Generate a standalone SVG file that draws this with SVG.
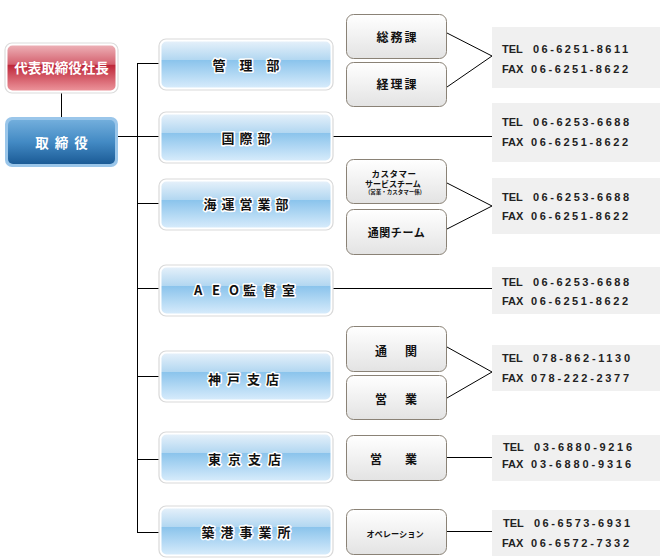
<svg xmlns="http://www.w3.org/2000/svg" width="669" height="560" viewBox="0 0 669 560">
<defs>
<linearGradient id="gDept" x1="0" y1="0" x2="0" y2="1">
<stop offset="0" stop-color="#e4f0fa"/>
<stop offset="0.4" stop-color="#b2d7f1"/>
<stop offset="0.41" stop-color="#8bc4ec"/>
<stop offset="1" stop-color="#d6ebfb"/>
</linearGradient>
<linearGradient id="gRed" x1="0" y1="0" x2="0" y2="1">
<stop offset="0" stop-color="#edb0b6"/>
<stop offset="0.42" stop-color="#d4606e"/>
<stop offset="0.43" stop-color="#bd2538"/>
<stop offset="1" stop-color="#ec939a"/>
</linearGradient>
<linearGradient id="gBlue" x1="0" y1="0" x2="0" y2="1">
<stop offset="0" stop-color="#72aedc"/>
<stop offset="0.5" stop-color="#438ac4"/>
<stop offset="1" stop-color="#1b5b96"/>
</linearGradient>
<linearGradient id="gSub" x1="0" y1="0" x2="0" y2="1">
<stop offset="0" stop-color="#ffffff"/>
<stop offset="1" stop-color="#e3e3e3"/>
</linearGradient>
<style>
.jp{font-family:"Noto Sans CJK JP","Noto Sans CJK SC",sans-serif;font-weight:bold;}
.dOut{fill:#ffffff;stroke:#d9d9d9;stroke-width:1.2;}
.dIn{fill:url(#gDept);}
.dTxt{font-size:13px;fill:#111;stroke:#ffffff;stroke-width:3;stroke-linejoin:round;paint-order:stroke;dominant-baseline:central;}
.sub{fill:url(#gSub);stroke:#8a8276;stroke-width:1;}
.sTxt{fill:#111;dominant-baseline:central;}
.info{fill:#f0f0f0;}
.tel{font-family:"Liberation Sans",Arial,sans-serif;font-weight:bold;font-size:11px;fill:#222;dominant-baseline:central;}
.con{stroke:#000;stroke-width:1;fill:none;}
</style>
</defs>
<rect width="669" height="560" fill="#ffffff"/>

<g id="connectors">
<line class="con" x1="61.5" y1="93" x2="61.5" y2="117"/>
<line class="con" x1="118" y1="136.5" x2="159" y2="136.5"/>
<line class="con" x1="137.5" y1="63" x2="137.5" y2="533"/>
<line class="con" x1="137" y1="63.5" x2="159" y2="63.5"/>
<line class="con" x1="137" y1="203.5" x2="159" y2="203.5"/>
<line class="con" x1="137" y1="288.5" x2="159" y2="288.5"/>
<line class="con" x1="137" y1="376.5" x2="159" y2="376.5"/>
<line class="con" x1="137" y1="459.5" x2="159" y2="459.5"/>
<line class="con" x1="137" y1="532.5" x2="159" y2="532.5"/>
<line class="con" x1="333" y1="136.5" x2="492" y2="136.5"/>
<line class="con" x1="333" y1="288.5" x2="492" y2="288.5"/>
<polyline class="con" points="447,33 492,56 447,87"/>
<polyline class="con" points="447,183 492,206 447,229"/>
<polyline class="con" points="447,347 492,372 447,398"/>
<line class="con" x1="447" y1="457.5" x2="492" y2="457.5"/>
<line class="con" x1="447" y1="531.5" x2="492" y2="531.5"/>
</g>

<g id="president">
<rect x="5" y="43" width="113" height="50" rx="7" fill="#ffffff" stroke="#dcdcdc" stroke-width="1.2"/>
<rect x="7.5" y="45.5" width="108" height="45" rx="5" fill="url(#gRed)"/>
<text class="jp" x="61.5" y="67" font-size="13.5" fill="#ffffff" text-anchor="middle" dominant-baseline="central">代表取締役社長</text>
</g>

<g id="directors">
<rect x="5" y="117" width="113" height="50" rx="7" fill="#9ac6ea"/>
<rect x="8" y="120" width="107" height="44" rx="5" fill="url(#gBlue)"/>
<text class="jp" x="64.5" y="142" font-size="13.5" fill="#ffffff" text-anchor="middle" dominant-baseline="central" letter-spacing="6">取締役</text>
</g>

<g id="kanri">
<rect class="dOut" x="159" y="39" width="174" height="51" rx="7"/>
<rect class="dIn" x="161.5" y="41.5" width="169" height="46" rx="5"/>
<text class="jp dTxt" x="253" y="64" text-anchor="middle" letter-spacing="14">管理部</text>
</g>

<g id="kokusai">
<rect class="dOut" x="159" y="112" width="174" height="51" rx="7"/>
<rect class="dIn" x="161.5" y="114.5" width="169" height="46" rx="5"/>
<text class="jp dTxt" x="248.5" y="137" text-anchor="middle" letter-spacing="5">国際部</text>
</g>

<g id="kaiun">
<rect class="dOut" x="159" y="179" width="174" height="51" rx="7"/>
<rect class="dIn" x="161.5" y="181.5" width="169" height="46" rx="5"/>
<text class="jp dTxt" x="248.5" y="203" text-anchor="middle" letter-spacing="5">海運営業部</text>
</g>

<g id="aeo">
<rect class="dOut" x="159" y="265" width="174" height="51" rx="7"/>
<rect class="dIn" x="161.5" y="267.5" width="169" height="46" rx="5"/>
<text class="jp dTxt" x="194 212 229 243 263 282" y="289">AEO監督室</text>
</g>

<g id="kobe">
<rect class="dOut" x="159" y="351" width="174" height="51" rx="7"/>
<rect class="dIn" x="161.5" y="353.5" width="169" height="46" rx="5"/>
<text class="jp dTxt" x="208 227 247 266" y="378">神戸支店</text>
</g>

<g id="tokyo">
<rect class="dOut" x="159" y="432" width="174" height="51" rx="7"/>
<rect class="dIn" x="161.5" y="434.5" width="169" height="46" rx="5"/>
<text class="jp dTxt" x="248" y="458.5" text-anchor="middle" letter-spacing="7">東京支店</text>
</g>

<g id="chikko">
<rect class="dOut" x="159" y="506" width="174" height="51" rx="7"/>
<rect class="dIn" x="161.5" y="508.5" width="169" height="46" rx="5"/>
<text class="jp dTxt" x="249" y="531" text-anchor="middle" letter-spacing="6">築港事業所</text>
</g>

<g id="somu">
<rect class="sub" x="346.5" y="14.5" width="100" height="44" rx="7"/>
<text class="jp sTxt" x="397.5" y="36" font-size="12" text-anchor="middle" letter-spacing="2">総務課</text>
</g>
<g id="keiri">
<rect class="sub" x="346.5" y="62.5" width="100" height="44" rx="7"/>
<text class="jp sTxt" x="397.5" y="83" font-size="12" text-anchor="middle" letter-spacing="2">経理課</text>
</g>
<g id="cs">
<rect class="sub" x="346.5" y="159.5" width="100" height="44" rx="7"/>
<text class="jp sTxt" x="394" y="173" font-size="8.5" text-anchor="middle" letter-spacing="0.5">カスタマー</text>
<text class="jp sTxt" x="393" y="183" font-size="8" text-anchor="middle">サービスチーム</text>
<text class="jp sTxt" x="395" y="192" font-size="5.5" text-anchor="middle">(営業・カスタマー係)</text>
</g>
<g id="tsukan-team">
<rect class="sub" x="346.5" y="209.5" width="100" height="45" rx="7"/>
<text class="jp sTxt" x="396.5" y="232" font-size="11" text-anchor="middle" letter-spacing="0.6">通関チーム</text>
</g>
<g id="kobe-tsukan">
<rect class="sub" x="346.5" y="326.5" width="100" height="45" rx="7"/>
<text class="jp sTxt" x="405" y="350" font-size="12" text-anchor="middle" letter-spacing="18">通関</text>
</g>
<g id="kobe-eigyo">
<rect class="sub" x="346.5" y="375.5" width="100" height="44" rx="7"/>
<text class="jp sTxt" x="405" y="398" font-size="12" text-anchor="middle" letter-spacing="18">営業</text>
</g>
<g id="tokyo-eigyo">
<rect class="sub" x="346.5" y="435.5" width="100" height="45" rx="7"/>
<text class="jp sTxt" x="405" y="458" font-size="12" text-anchor="middle" letter-spacing="23">営業</text>
</g>
<g id="operation">
<rect class="sub" x="346.5" y="509.5" width="100" height="45" rx="7"/>
<text class="jp sTxt" x="395" y="533" font-size="8.2" text-anchor="middle">オペレーション</text>
</g>

<g id="info1">
<rect class="info" x="492" y="27" width="168" height="61"/>
<text class="tel" x="502" y="49">TEL</text><text class="tel" x="533" y="49" textLength="95" lengthAdjust="spacing">06-6251-8611</text>
<text class="tel" x="502" y="69">FAX</text><text class="tel" x="531" y="69" textLength="97" lengthAdjust="spacing">06-6251-8622</text>
</g>
<g id="info2">
<rect class="info" x="492" y="103" width="168" height="59"/>
<text class="tel" x="502" y="122">TEL</text><text class="tel" x="533" y="122" textLength="96" lengthAdjust="spacing">06-6253-6688</text>
<text class="tel" x="502" y="142">FAX</text><text class="tel" x="531" y="142" textLength="97" lengthAdjust="spacing">06-6251-8622</text>
</g>
<g id="info3">
<rect class="info" x="492" y="178" width="168" height="56"/>
<text class="tel" x="502" y="197">TEL</text><text class="tel" x="533" y="197" textLength="96" lengthAdjust="spacing">06-6253-6688</text>
<text class="tel" x="502" y="216">FAX</text><text class="tel" x="531" y="216" textLength="97" lengthAdjust="spacing">06-6251-8622</text>
</g>
<g id="info4">
<rect class="info" x="492" y="267" width="168" height="47"/>
<text class="tel" x="502" y="282">TEL</text><text class="tel" x="533" y="282" textLength="96" lengthAdjust="spacing">06-6253-6688</text>
<text class="tel" x="502" y="301">FAX</text><text class="tel" x="531" y="301" textLength="97" lengthAdjust="spacing">06-6251-8622</text>
</g>
<g id="info5">
<rect class="info" x="492" y="345" width="168" height="46"/>
<text class="tel" x="502" y="358">TEL</text><text class="tel" x="533" y="358" textLength="97" lengthAdjust="spacing">078-862-1130</text>
<text class="tel" x="502" y="378">FAX</text><text class="tel" x="531" y="378" textLength="98" lengthAdjust="spacing">078-222-2377</text>
</g>
<g id="info6">
<rect class="info" x="492" y="435" width="168" height="46"/>
<text class="tel" x="503" y="447">TEL</text><text class="tel" x="534" y="447" textLength="98" lengthAdjust="spacing">03-6880-9216</text>
<text class="tel" x="502" y="464">FAX</text><text class="tel" x="531" y="464" textLength="100" lengthAdjust="spacing">03-6880-9316</text>
</g>
<g id="info7">
<rect class="info" x="492" y="510" width="168" height="46"/>
<text class="tel" x="503" y="523">TEL</text><text class="tel" x="534" y="523" textLength="96" lengthAdjust="spacing">06-6573-6931</text>
<text class="tel" x="502" y="543">FAX</text><text class="tel" x="531" y="543" textLength="98" lengthAdjust="spacing">06-6572-7332</text>
</g>
</svg>
